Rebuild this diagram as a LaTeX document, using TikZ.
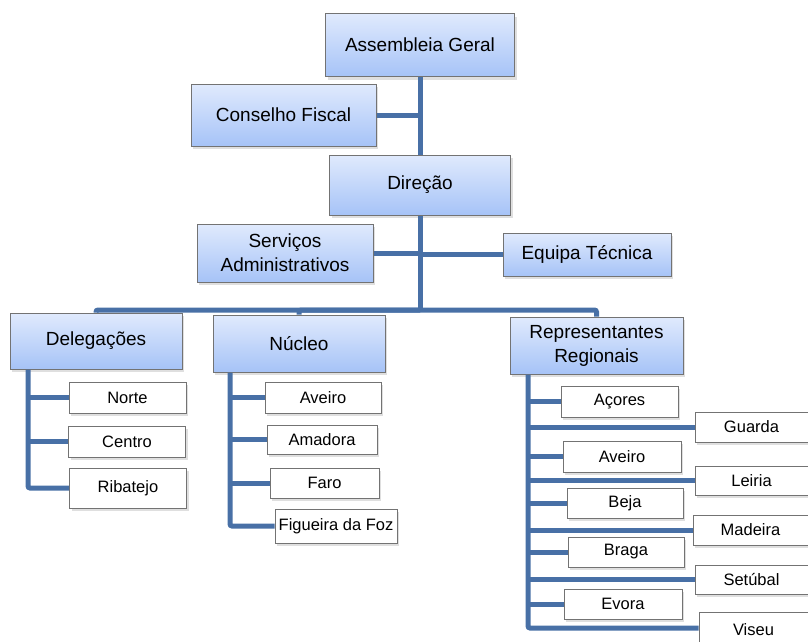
\documentclass[tikz,border=0pt]{standalone}
\usepackage{fontspec}
\setmainfont{Liberation Sans}
\usetikzlibrary{shadows}
\definecolor{trunk}{RGB}{72,112,166}
\definecolor{boxtop}{RGB}{224,234,253}
\definecolor{boxbot}{RGB}{166,195,247}
\begin{document}
\begin{tikzpicture}[x=1pt,y=-1pt,
	unit/.style={rectangle, draw=gray!90!black, line width=1pt, top color=boxtop, bottom color=boxbot, drop shadow={shadow xshift=2pt, shadow yshift=-3pt, opacity=0.25}, inner sep=2pt, align=center, font=\fontsize{19}{22}\selectfont},
	leaf/.style={rectangle, draw=gray!90!black, line width=0.8pt, fill=white, drop shadow={shadow xshift=2pt, shadow yshift=-3pt, opacity=0.25}, inner sep=2pt, minimum width=117pt, minimum height=31pt, font=\fontsize{16.5}{19}\selectfont},
	link/.style={draw=trunk, line width=5pt, rounded corners=2pt}]
	\useasboundingbox (0,0) rectangle (808,641);

	\node 	(ag)	at	(420,45) 	[unit, minimum width=189pt, minimum height=63pt]{Assembleia Geral};
	\node 	(cf)	at	(283.5,115) 	[unit, minimum width=185pt, minimum height=62pt]{Conselho Fiscal};
	\node 	(dir)	at	(420,185) 	[unit, minimum width=181pt, minimum height=60pt]{Direção};
	\node 	(sa)	at	(285,253) 	[unit, minimum width=176pt, minimum height=58pt]{Serviços\\[2pt]Administrativos};
	\node 	(et)	at	(587,254.5) 	[unit, minimum width=168pt, minimum height=43pt]{Equipa Técnica};

	\node 	(del)	at	(96,341) 	[unit, minimum width=172pt, minimum height=56pt]{Delegações};
	\node 	(nuc)	at	(299,343.5) 	[unit, minimum width=172pt, minimum height=57pt]{Núcleo};
	\node 	(rr)	at	(596.5,345.5) 	[unit, minimum width=173pt, minimum height=57pt]{Representantes\\[2pt]Regionais};

	\coordinate	(hub)	at	(420,310);
	\coordinate	(delv)	at	(28,488);
	\coordinate	(nucv)	at	(230,528);
	\coordinate	(rrv)	at	(528,628);

	\draw[link] (ag.south) -- (dir.north);
	\draw[link] (cf.east) -- (cf.east -| ag.south);
	\draw[link] (dir.south) -- (hub);
	\draw[link] (sa.east) -- (sa.east -| dir.south);
	\draw[link] (et.west) -- (et.west -| dir.south);
	\draw[link] (hub) -| (del.north);
	\draw[link] (hub) -| (nuc.north);
	\draw[link] (hub) -| (rr.north);

	\node 	(norte)	at	(127.5,397.5) 	[leaf]{Norte};
	\node 	(centro)	at	(127,441.5) 	[leaf]{Centro};
	\node 	(riba)	at	(128,488) 	[leaf, minimum height=40pt]{Ribatejo};
	\draw[link] (del.south -| delv) |- (riba.west);
	\draw[link] (norte.west -| delv) -- (norte.west);
	\draw[link] (centro.west -| delv) -- (centro.west);

	\node 	(avn)	at	(323,397.5) 	[leaf, minimum width=116pt]{Aveiro};
	\node 	(amadora)	at	(322,439.5) 	[leaf, minimum width=110pt, minimum height=29pt]{Amadora};
	\node 	(faro)	at	(324.5,483) 	[leaf, minimum width=109pt, minimum height=30pt]{Faro};
	\node 	(figueira)	at	(336,526) 	[leaf, minimum width=122pt, minimum height=34pt, inner sep=1pt]{Figueira da Foz};
	\draw[link] (nuc.south -| nucv) |- (figueira.west);
	\draw[link] (avn.west -| nucv) -- (avn.west);
	\draw[link] (amadora.west -| nucv) -- (amadora.west);
	\draw[link] (faro.west -| nucv) -- (faro.west);

	\node 	(acores)	at	(619.5,401.5) 	[leaf]{Açores};
	\node 	(avr)	at	(622,456.5) 	[leaf, minimum width=118pt]{Aveiro};
	\node 	(beja)	at	(625,503) 	[leaf, minimum width=116pt, minimum height=30pt]{Beja};
	\node 	(braga)	at	(626,552) 	[leaf, minimum width=116pt, minimum height=30pt]{Braga};
	\node 	(evora)	at	(623,604) 	[leaf, minimum width=118pt, minimum height=30pt]{Evora};
	\node 	(guarda)	at	(751.5,427) 	[leaf, minimum width=113pt, minimum height=30pt]{Guarda};
	\node 	(leiria)	at	(751.5,480.5) 	[leaf, minimum width=113pt, minimum height=29pt]{Leiria};
	\node 	(madeira)	at	(750.5,530) 	[leaf, minimum width=115pt, minimum height=30pt]{Madeira};
	\node 	(setubal)	at	(751.5,579.5) 	[leaf, minimum width=113pt, minimum height=29pt]{Setúbal};
	\node 	(viseu)	at	(753.5,630) 	[leaf, minimum width=109pt, minimum height=36pt]{Viseu};
	\draw[link] (rr.south -| rrv) -- (rrv) -- (rrv -| viseu.west);
	\foreach \r in {acores,avr,beja,braga,evora,guarda,leiria,madeira,setubal}
		\draw[link] (\r.west -| rrv) -- (\r.west);

\end{tikzpicture}
\end{document}
